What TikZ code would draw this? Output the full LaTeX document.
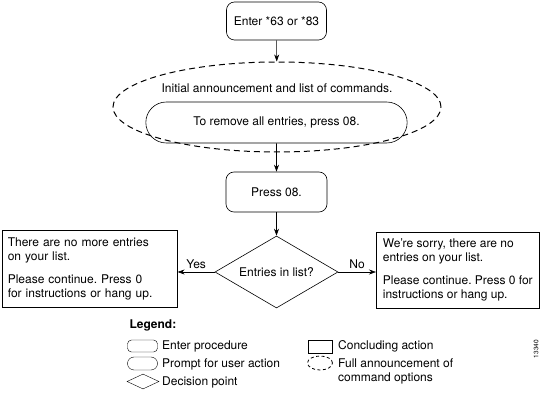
\documentclass[tikz,border=0pt]{standalone}
\usepackage{fontspec}
\setmainfont{TeX Gyre Heros}
\usepackage{tikz}
\usetikzlibrary{arrows.meta,shapes.geometric,shapes.misc}
\frenchspacing

\begin{document}
\begin{tikzpicture}[x=1pt,y=-1pt,
  font=\fontsize{12}{14}\selectfont,
  flow/.style={-{Stealth[length=7pt,width=5pt]},line width=0.6pt},
  roundbox/.style={draw,rounded corners=8pt,line width=0.6pt},
  pillbox/.style={draw,rounded rectangle,line width=0.6pt},
  endbox/.style={draw,rectangle,line width=0.6pt,align=left,anchor=north west,inner xsep=5pt,inner ysep=5pt},
  dashring/.style={draw,ellipse,dash pattern=on 6pt off 4pt,line width=1pt},
  legtext/.style={anchor=west,inner sep=1pt}]
  \useasboundingbox (0,0) rectangle (542,409);

  \node[roundbox,minimum width=100pt,minimum height=38pt] (enter) at (276.5,21) {Enter *63 or *83};
  \node[dashring,minimum width=328pt,minimum height=90pt] (full) at (277,107) {};
  \node (initial) at (277,88) {Initial announcement and list of commands.};
  \node[pillbox,minimum width=268pt,minimum height=41pt] (prompt) at (276.5,122.5) {To remove all entries, press 08.};
  \node[roundbox,minimum width=101pt,minimum height=40pt] (press) at (276.5,192) {Press 08.};
  \node[draw,diamond,aspect=1.7,inner sep=0pt,minimum width=123pt,minimum height=72pt,line width=0.6pt] (check) at (276.5,272) {Entries in list?};

  \node[endbox,minimum width=175pt,minimum height=77pt,text width=164pt] (yesbox) at (2,230)
    {There are no more entries\\on your list.\\[9pt]Please continue. Press 0\\for instructions or hang up.};
  \node[endbox,minimum width=163pt,minimum height=76pt] (nobox) at (376,232)
    {We're sorry, there are no\\entries on your list.\\[9pt]Please continue. Press 0 for\\instructions or hang up.};

  \draw[flow] (enter) -- (full);
  \draw[flow] (prompt) -- (press);
  \draw[flow] (press) -- (check);
  \draw[flow] (check.west) -- node[above] {Yes} (yesbox.east |- check.west);
  \draw[flow] (check.east) -- node[above] {No} (nobox.west |- check.east);

  % legend
  \node[anchor=west,font=\fontsize{12}{14}\selectfont\bfseries] (legtitle) at (126,325) {Legend:};
  \node[draw,rounded corners=4pt,minimum width=30pt,minimum height=12pt,inner sep=0pt] (legenter) at (142.5,346) {};
  \node[draw,rounded rectangle,minimum width=30pt,minimum height=13pt,inner sep=0pt] (legprompt) at (142.5,363.5) {};
  \node[draw,diamond,aspect=2.2,minimum width=32pt,minimum height=15pt,inner sep=0pt] (legcheck) at (143,381.5) {};
  \node[draw,minimum width=24pt,minimum height=13pt,inner sep=0pt] (legend) at (320,346.5) {};
  \node[draw,ellipse,dash pattern=on 3pt off 2.5pt,line width=0.8pt,minimum width=25pt,minimum height=14pt,inner sep=0pt] (legfull) at (320,363) {};
  \node[legtext] at (161,346) {Enter procedure};
  \node[legtext] at (161,364) {Prompt for user action};
  \node[legtext] at (161,382) {Decision point};
  \node[legtext] at (337,346) {Concluding action};
  \node[legtext,align=left] at (337,371) {Full announcement of\\command options};

  \node[rotate=90,font=\fontsize{6.5}{7}\selectfont] (figno) at (536,349) {13340};
\end{tikzpicture}
\end{document}
